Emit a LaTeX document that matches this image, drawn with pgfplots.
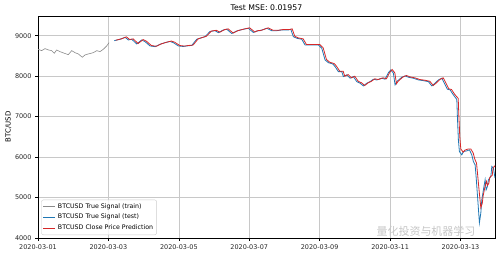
\documentclass[border=0pt]{standalone}
\usepackage{pgfplots}
\pgfplotsset{compat=1.18}
\usepackage{fontspec}
\setmainfont{DejaVu Sans}
\newfontfamily\cjk{Noto Sans CJK SC}
\definecolor{mplblue}{HTML}{1F77B4}
\definecolor{mplred}{HTML}{D62728}
\definecolor{traingray}{HTML}{8A8A8A}
\definecolor{gridgray}{HTML}{C8C8C8}
\begin{document}
\begin{tikzpicture}
\begin{axis}[
  name=ax,
  scale only axis,
  width=457bp, height=222bp,
  xmin=0, xmax=12.98, ymin=4000, ymax=9486,
  xtick={0,2,4,6,8,10,12},
  xticklabels={2020-03-01,2020-03-03,2020-03-05,2020-03-07,2020-03-09,2020-03-11,2020-03-13},
  ytick={4000,5000,6000,7000,8000,9000},
  /pgf/number format/assume math mode=true,
  /pgf/number format/set thousands separator={},
  tick label style={font=\fontsize{6.5}{7}\selectfont, text=black!85},
  tick align=outside, major tick length=3bp,
  tick style={black, line width=0.5bp},
  xtick pos=bottom, ytick pos=left,
  grid=major,
  major grid style={gridgray, line width=0.6bp},
  axis line style={black, line width=0.6bp},
  title={Test MSE: 0.01957},
  title style={font=\fontsize{7.8}{9}\selectfont, yshift=-4.5bp},
  ylabel={BTC/USD},
  ylabel style={font=\fontsize{7}{8}\selectfont, yshift=-3bp},
  xlabel style={font=\fontsize{6.5}{7}\selectfont},
  legend style={at={(0.0072,0.0135)}, anchor=south west,
    draw=gray!40, rounded corners=2bp, fill=white, fill opacity=0.8, text opacity=1,
    font=\fontsize{6.3}{7.5}\selectfont, row sep=0.6bp, inner sep=1.5bp},
  legend cell align=left,
  legend image code/.code={\draw[#1, line width=1bp] (0bp,0bp) -- (12bp,0bp);},
]
% train
\addplot[traingray, line width=0.6bp] coordinates {
(0.000,8664) (0.105,8630) (0.199,8680) (0.293,8647) (0.389,8630) (0.463,8565)
(0.531,8647) (0.625,8605) (0.747,8565) (0.861,8531) (0.957,8630) (1.051,8580)
(1.145,8548) (1.259,8467) (1.335,8523) (1.429,8548) (1.571,8580) (1.668,8630)
(1.761,8605) (1.855,8664) (1.952,8746) (2.017,8827)
};
\addlegendentry{BTCUSD True Signal (train)}
% test
\addplot[mplblue, line width=0.8bp] coordinates {
(2.168,8877) (2.330,8911) (2.472,8960) (2.565,8894) (2.662,8911) (2.804,8795)
(2.946,8894) (3.040,8852) (3.182,8746) (3.324,8728) (3.466,8788) (3.608,8827)
(3.750,8857) (3.844,8827) (3.986,8746) (4.128,8733) (4.224,8746) (4.366,8758)
(4.508,8911) (4.651,8951) (4.744,8975) (4.886,9104) (5.028,9123) (5.122,9074)
(5.264,9141) (5.361,9158) (5.503,9054) (5.645,9116) (5.832,9158) (5.974,9183)
(6.116,9079) (6.213,9116) (6.307,9123) (6.497,9183) (6.639,9123) (6.781,9123)
(6.923,9141) (7.111,9141) (7.179,9158) (7.253,8975) (7.349,8936) (7.491,8911)
(7.585,8770) (7.727,8770) (7.963,8770) (8.060,8689) (8.153,8400) (8.247,8333)
(8.372,8301) (8.438,8235) (8.531,8111) (8.628,8111) (8.673,7988) (8.770,8030)
(8.864,7948) (8.957,7988) (9.054,7864) (9.148,7825) (9.241,7758) (9.338,7825)
(9.432,7864) (9.526,7924) (9.622,7906) (9.764,7948) (9.858,7924) (9.952,8086)
(10.020,8153) (10.094,8072) (10.142,7783) (10.190,7864) (10.332,7973) (10.426,8005)
(10.520,7973) (10.662,7948) (10.804,7906) (10.946,7889) (11.088,7864) (11.185,7758)
(11.278,7825) (11.372,7906) (11.469,7948) (11.534,7840) (11.628,7677) (11.705,7659)
(11.798,7536) (11.895,7425) (11.912,7000) (11.940,6425) (11.969,6136) (12.037,6055)
(12.082,6136) (12.179,6153) (12.253,6178) (12.321,6055) (12.366,5889) (12.415,5808)
(12.443,5519) (12.491,4943) (12.537,4375) (12.577,4615) (12.605,4943) (12.651,5190)
(12.699,5437) (12.727,5190) (12.764,5272) (12.793,5437) (12.861,5519) (12.889,5766)
(12.935,5726) (12.980,5480)
};
\addlegendentry{BTCUSD True Signal (test)}
% prediction
\addplot[mplred, line width=0.8bp] coordinates {
(2.208,8887) (2.370,8921) (2.512,8970) (2.605,8904) (2.702,8921) (2.844,8805)
(2.986,8904) (3.080,8862) (3.222,8756) (3.364,8738) (3.506,8798) (3.648,8837)
(3.790,8867) (3.884,8837) (4.026,8756) (4.168,8743) (4.264,8756) (4.406,8768)
(4.548,8921) (4.691,8961) (4.784,8985) (4.926,9114) (5.068,9133) (5.162,9084)
(5.304,9151) (5.401,9168) (5.543,9064) (5.685,9126) (5.872,9168) (6.014,9193)
(6.156,9089) (6.253,9126) (6.347,9133) (6.537,9193) (6.679,9133) (6.821,9133)
(6.963,9151) (7.151,9151) (7.219,9168) (7.293,8985) (7.389,8946) (7.531,8921)
(7.625,8780) (7.767,8780) (8.003,8780) (8.100,8699) (8.193,8410) (8.287,8343)
(8.412,8311) (8.478,8245) (8.571,8121) (8.668,8121) (8.713,7998) (8.810,8040)
(8.904,7958) (8.997,7998) (9.094,7874) (9.188,7835) (9.281,7768) (9.378,7835)
(9.472,7874) (9.566,7934) (9.662,7916) (9.804,7958) (9.898,7934) (9.992,8096)
(10.060,8163) (10.134,8082) (10.182,7813) (10.230,7874) (10.372,7983) (10.466,8015)
(10.560,7983) (10.702,7958) (10.844,7916) (10.986,7899) (11.128,7874) (11.225,7768)
(11.318,7835) (11.412,7916) (11.509,7958) (11.574,7850) (11.668,7687) (11.745,7669)
(11.838,7546) (11.935,7450) (11.952,7050) (11.980,6500) (12.009,6200) (12.077,6120)
(12.122,6170) (12.219,6200) (12.293,6200) (12.361,6100) (12.406,5950) (12.455,5850)
(12.483,5600) (12.531,5150) (12.577,4750) (12.617,4850) (12.645,5050) (12.691,5250)
(12.739,5400) (12.767,5300) (12.804,5350) (12.833,5500) (12.901,5550) (12.929,5750)
(12.960,5760) (12.980,5790)
};
\addlegendentry{BTCUSD Close Price Prediction}
\node[font=\cjk\fontsize{11}{12}\selectfont, text=gray!45, anchor=center] at (rel axis cs:0.849,0.03) {量化投资与机器学习};
\end{axis}
\pgfresetboundingbox
\path[use as bounding box] ([xshift=-38bp,yshift=-16bp]ax.south west) rectangle ([xshift=4bp,yshift=16bp]ax.north east);
\end{tikzpicture}
\end{document}
